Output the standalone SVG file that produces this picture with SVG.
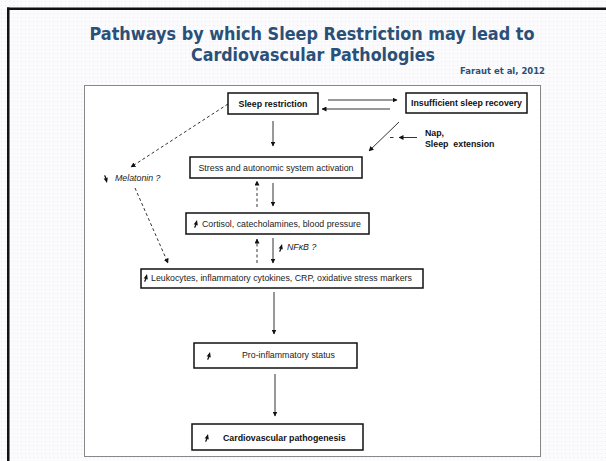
<svg xmlns="http://www.w3.org/2000/svg" width="606" height="461" viewBox="0 0 606 461">
<defs>
<style>
.box{fill:#fff;stroke:#111;stroke-width:1.5}
.t{font-family:"Liberation Sans",Arial,sans-serif;font-size:8.8px;fill:#222}
.b{font-weight:bold;fill:#111}
.i{font-style:italic}
.ln{stroke:#333;stroke-width:1;fill:none}
.ds{stroke:#333;stroke-width:1;fill:none;stroke-dasharray:3 2.5}
.title{font-family:"DejaVu Sans","Liberation Sans",sans-serif;font-weight:bold;fill:#2a5078}
.ic{fill:#111}
</style>
<marker id="ah" viewBox="0 0 10 10" refX="9" refY="5" markerWidth="5" markerHeight="5" markerUnits="userSpaceOnUse" orient="auto">
<path d="M0,0 L10,5 L0,10 z" fill="#111"/>
</marker>
<pattern id="dots" width="4" height="4" patternUnits="userSpaceOnUse">
<rect width="4" height="4" fill="#fbfbfd"/>
<rect x="1" y="1" width="1" height="1" fill="#e9ecf2"/>
</pattern>
<path id="up" d="M0,0.5 L1.3,-2.4 L-0.4,-2.6 L3,-7 L3.8,-1.6 L2.5,-2.1 L1.3,0.8 z"/>
</defs>
<rect width="606" height="461" fill="url(#dots)"/>
<rect x="7" y="7.5" width="599" height="2.5" fill="#111"/>
<rect x="7" y="7.5" width="2.5" height="454" fill="#111"/>
<text class="title" x="312" y="40" font-size="17" text-anchor="middle" textLength="445" lengthAdjust="spacingAndGlyphs">Pathways by which Sleep Restriction may lead to</text>
<text class="title" x="313" y="61" font-size="17" text-anchor="middle" textLength="244" lengthAdjust="spacingAndGlyphs">Cardiovascular Pathologies</text>
<text class="title" x="545" y="74" font-size="9.5" text-anchor="end" textLength="85" lengthAdjust="spacingAndGlyphs">Faraut et al, 2012</text>
<rect x="84.5" y="85.5" width="456" height="371" fill="#fff" stroke="#888" stroke-width="1"/>

<g id="connectors">
<line class="ln" x1="328" y1="100" x2="397" y2="100" marker-end="url(#ah)"/>
<line class="ln" x1="390" y1="109" x2="322" y2="109" marker-end="url(#ah)"/>
<line class="ln" x1="273" y1="121" x2="273" y2="146" marker-end="url(#ah)"/>
<line class="ln" x1="273" y1="183" x2="273" y2="206" marker-end="url(#ah)"/>
<line class="ds" x1="257" y1="207" x2="257" y2="181" marker-end="url(#ah)"/>
<line class="ln" x1="273" y1="238" x2="273" y2="263" marker-end="url(#ah)"/>
<line class="ds" x1="257" y1="263" x2="257" y2="239" marker-end="url(#ah)"/>
<line class="ln" x1="274" y1="292" x2="274" y2="334" marker-end="url(#ah)"/>
<line class="ln" x1="275" y1="374" x2="275" y2="416" marker-end="url(#ah)"/>
<line class="ds" x1="228" y1="104" x2="131" y2="167" marker-end="url(#ah)"/>
<line class="ds" x1="135" y1="188" x2="168" y2="263" marker-end="url(#ah)"/>
<line class="ln" x1="399" y1="122" x2="369" y2="151" marker-end="url(#ah)"/>
<line class="ln" x1="417" y1="137.5" x2="399" y2="137.5" marker-end="url(#ah)"/>
<line class="ln" x1="390" y1="137.5" x2="393.5" y2="137.5" stroke-width="1.2"/>
</g>

<g id="sleep-restriction">
<rect class="box" x="228" y="93" width="90" height="21"/>
<text class="t b" x="273" y="107" text-anchor="middle">Sleep restriction</text>
</g>
<g id="insufficient-recovery">
<rect class="box" x="406" y="93" width="121" height="20"/>
<text class="t b" x="466.5" y="106" text-anchor="middle">Insufficient sleep recovery</text>
</g>
<g id="nap">
<text class="t b" x="425" y="136">Nap,</text>
<text class="t b" x="425" y="147" xml:space="preserve">Sleep  extension</text>
</g>
<g id="melatonin">
<use href="#up" class="ic" transform="translate(104,176) scale(1,-1)"/>
<text class="t i" x="115" y="181">Melatonin ?</text>
</g>
<g id="stress">
<rect class="box" x="190" y="157" width="172" height="21"/>
<text class="t" x="276" y="171" text-anchor="middle">Stress and autonomic system activation</text>
</g>
<g id="cortisol">
<rect class="box" x="186" y="213" width="183" height="21"/>
<use href="#up" class="ic" transform="translate(194,227)"/>
<text class="t" x="202" y="227">Cortisol, catecholamines,  blood pressure</text>
</g>
<g id="nfkb">
<use href="#up" class="ic" transform="translate(279,251)"/>
<text class="t i" x="287" y="250">NFκB ?</text>
</g>
<g id="leukocytes">
<rect class="box" x="141" y="269" width="282" height="19"/>
<use href="#up" class="ic" transform="translate(144,281)"/>
<text class="t" x="151" y="281">Leukocytes, inflammatory cytokines, CRP, oxidative stress markers</text>
</g>
<g id="pro-inflammatory">
<rect class="box" x="194" y="343" width="163" height="25"/>
<use href="#up" class="ic" transform="translate(207,359)"/>
<text class="t" x="242" y="358">Pro-inflammatory status</text>
</g>
<g id="cardiovascular">
<rect class="box" x="192" y="424" width="171" height="26"/>
<use href="#up" class="ic" transform="translate(205,441)"/>
<text class="t b" x="223" y="441">Cardiovascular pathogenesis</text>
</g>
</svg>
